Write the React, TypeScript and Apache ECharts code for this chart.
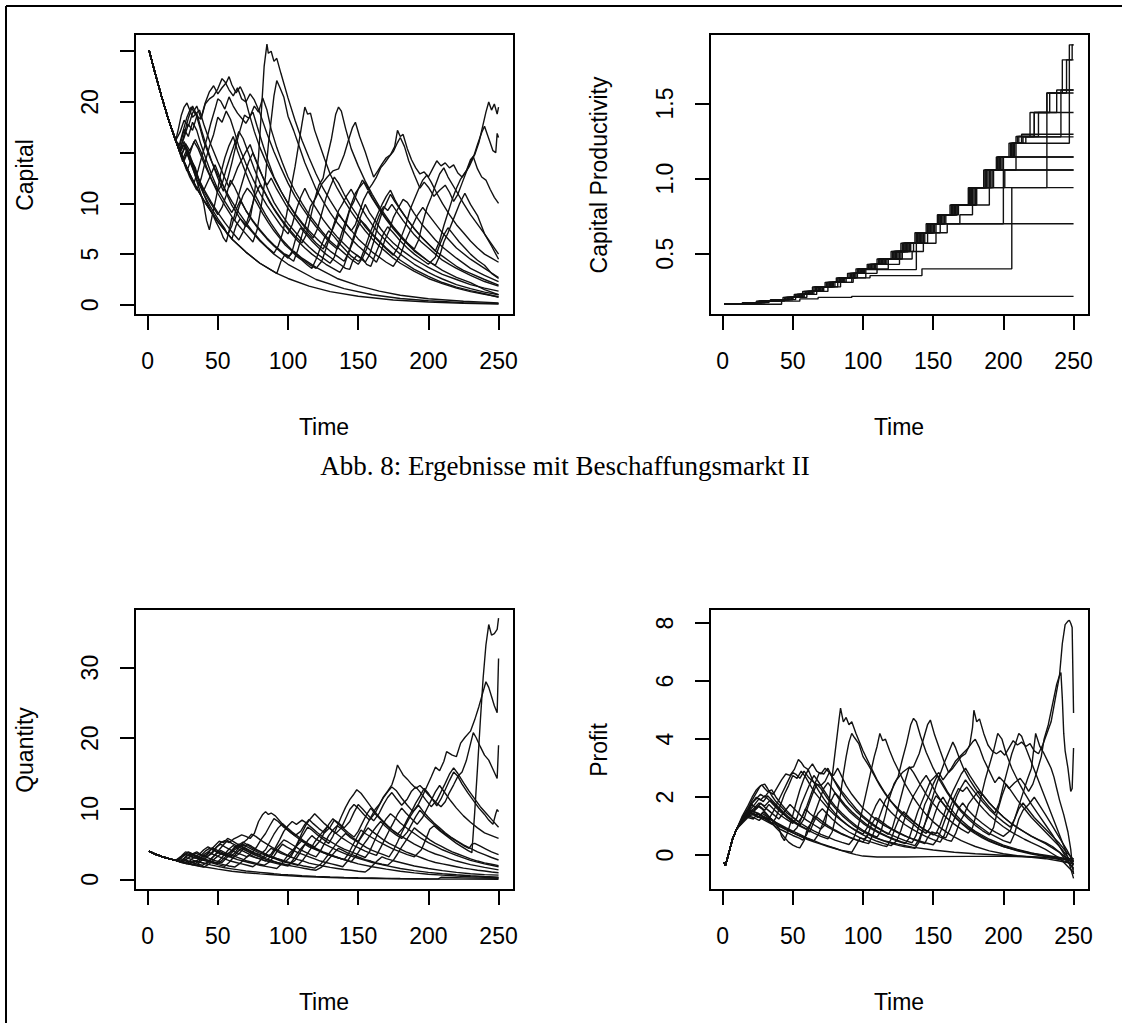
import React, { useEffect, useRef } from "react";
import * as echarts from "echarts";

// ---------- tick values ----------
const TIME_TICKS = [0, 50, 100, 150, 200, 250];
const CAPITAL_TICKS = [0, 5, 10, 15, 20, 25];
const CAPITAL_LABELS = [0, 5, 10, 20];
const PROD_TICKS = [0.5, 1.0, 1.5];
const QUANTITY_TICKS = [0, 10, 20, 30];
const PROFIT_TICKS = [0, 2, 4, 6, 8];

// ---------- Capital (flat lists: time, value, time, value ...) ----------
const CAPITAL_START = [1, 25.1, 5, 23, 10, 20.5, 15, 18.2];
const capitalPaths: number[][] = [
  [20,16.2, 25,14.4, 30,12.9, 35,11.5, 40,10.3, 50,8.2, 60,6.5, 70,5.2, 80,4.1, 92,3.1, 100,2.6, 115,1.85, 130,1.3, 150,0.85, 175,0.48, 200,0.28, 225,0.16, 250,0.09],
  [20,16.2, 25,14.4, 30,12.9, 35,11.5, 40,10.3, 50,8.2, 60,6.5, 70,5.2, 80,4.1, 92,3.1, 95,4.3, 98,5.0, 101,4.8, 104,5.3, 110,4.6, 120,3.7, 135,2.6, 150,1.9, 165,1.35, 180,0.95, 200,0.6, 225,0.35, 250,0.2],
  [20,16.2, 25,14.4, 30,12.9, 35,11.5, 40,10.3, 50,8.2, 60,6.5, 63,7.8, 66,8.5, 70,7.9, 80,6.3, 90,5.0, 100,4.0, 120,2.5, 140,1.6, 160,1.0, 180,0.63, 200,0.4, 225,0.22, 250,0.12],
  [20,16.2, 22,15.5, 25,17, 28,18.5, 31,19.5, 34,18.8, 37,19.2, 40,17.8, 45,15.8, 50,14.1, 55,12.5, 58,11.6, 61,12.4, 64,13.5, 67,14.3, 70,15.1, 73,15.8, 76,14.6, 80,13.2, 85,11.8, 88,12.5, 92,11.4, 100,9.5, 110,7.6, 120,6.1, 125,5.5, 128,6.3, 132,7.5, 136,8.9, 140,8.2, 150,6.5, 160,5.2, 170,4.2, 175,3.8, 180,4.9, 184,6.4, 188,7.6, 192,8.8, 196,9.6, 200,8.9, 210,7.1, 220,5.6, 230,4.5, 240,3.6, 250,2.7],
  [20,16.2, 23,15, 26,15.8, 30,14.2, 35,12.7, 40,11.3, 44,12.5, 48,13.8, 52,12.4, 56,11, 60,9.8, 65,8.7, 70,7.7, 73,8.5, 76,10.8, 79,14.6, 81,19, 83,23.5, 85,25.7, 86,24.8, 88,25, 90,24, 92,24.3, 95,22.8, 100,20.4, 105,18.2, 110,16.2, 115,14.5, 120,12.9, 125,11.5, 130,10.3, 135,9.2, 140,8.2, 145,7.3, 148,7.9, 151,9.2, 154,10.4, 157,11.2, 160,10.5, 165,9.4, 170,8.4, 175,7.5, 180,6.7, 190,5.3, 200,4.3, 210,3.4, 220,2.7, 230,2.2, 240,1.5, 250,1.0],
  [20,16.2, 23,15.4, 26,16.5, 29,17.8, 32,17.2, 35,18.6, 38,18.3, 41,19.8, 44,20.3, 47,20.6, 50,21.3, 53,22.3, 55,22.0, 58,21.2, 61,20.6, 64,21.4, 67,20.3, 70,20.0, 73,20.8, 76,20.2, 80,18.9, 85,16.9, 90,15.1, 95,13.5, 100,12.0, 105,10.7, 110,9.6, 115,8.6, 120,7.7, 125,6.9, 130,6.1, 135,5.5, 138,6.3, 141,7.8, 144,9.4, 147,10.2, 150,11.4, 153,12.3, 156,11.8, 160,10.6, 165,9.5, 170,8.5, 180,6.8, 190,5.4, 200,4.3, 205,3.9, 208,4.8, 211,6.2, 214,7.1, 218,8.5, 222,9.9, 226,11.0, 230,9.9, 235,8.8, 240,7.0, 245,5.8, 250,4.5],
  [20,16.2, 24,14.6, 27,15.9, 30,15.2, 34,16.3, 38,15.1, 42,13.6, 46,12.2, 50,11.0, 55,9.8, 60,8.7, 65,7.8, 70,7.0, 75,6.2, 78,7.4, 81,9.8, 84,12.7, 86,15.8, 88,18.2, 90,20.6, 92,22.1, 94,21.5, 97,20.5, 100,18.6, 104,17.2, 108,15.6, 112,14.0, 116,12.7, 120,11.4, 125,10.2, 130,9.1, 135,8.1, 140,7.3, 145,6.5, 150,5.8, 155,5.2, 160,4.6, 163,4.2, 166,5.1, 169,6.4, 172,7.3, 175,8.6, 178,9.4, 182,10.4, 185,10.1, 190,9.0, 195,8.0, 200,7.2, 205,6.4, 210,5.7, 220,4.6, 230,3.6, 240,2.9, 250,2.3],
  [20,16.2, 23,15.1, 26,16.8, 29,18.4, 32,19.6, 34,19.0, 37,17.6, 40,16.1, 45,14.3, 50,12.8, 55,11.4, 60,10.2, 65,9.1, 70,8.1, 75,7.2, 80,6.4, 85,5.7, 90,5.1, 93,5.8, 96,7.0, 99,8.9, 102,11.4, 105,13.6, 108,16.2, 110,17.9, 112,19.5, 114,18.8, 116,18.9, 119,17.2, 122,16.0, 126,14.4, 130,12.9, 135,11.5, 140,10.3, 145,9.2, 150,8.2, 155,7.3, 160,6.5, 165,5.8, 170,5.2, 175,4.6, 180,4.1, 190,3.3, 200,2.6, 210,2.1, 220,1.65, 230,1.3, 240,1.05, 250,0.8],
  [20,16.2, 24,14.8, 27,15.6, 30,14.9, 33,16.1, 36,15.4, 40,14.0, 45,12.5, 50,11.2, 53,11.9, 56,13.4, 59,14.7, 62,15.9, 65,17.1, 68,16.4, 72,14.9, 76,13.4, 80,12.0, 85,10.7, 90,9.5, 95,8.5, 100,7.6, 105,6.8, 110,6.1, 113,6.9, 116,8.6, 119,10.4, 122,11.8, 125,12.5, 128,14.6, 131,16.4, 134,18.8, 136,19.5, 138,19.1, 141,17.4, 145,15.4, 150,13.7, 155,12.2, 160,10.9, 165,9.7, 170,8.7, 175,7.7, 180,6.9, 185,6.1, 190,5.5, 193,6.4, 196,8.1, 199,9.6, 202,10.6, 205,11.8, 208,12.9, 211,13.5, 214,12.6, 220,11.2, 225,10.0, 230,8.9, 240,7.0, 250,5.0],
  [20,16.2, 23,15.3, 26,14.2, 29,15.2, 32,14.0, 36,12.5, 40,11.2, 45,10.0, 50,8.9, 53,9.6, 56,10.8, 59,12.3, 62,11.6, 66,10.4, 70,9.3, 75,8.3, 80,7.4, 85,6.6, 90,5.9, 95,5.3, 100,4.7, 104,4.3, 107,5.4, 110,6.9, 113,8.2, 116,9.7, 120,10.6, 124,11.9, 128,12.6, 132,13.2, 136,13.4, 140,14.8, 143,16.2, 146,17.5, 148,18.0, 151,16.6, 155,15.1, 158,13.8, 161,12.6, 164,13.2, 167,13.9, 170,14.5, 173,14.8, 176,15.6, 178,17.2, 180,16.6, 182,16.8, 185,15.4, 188,14.3, 191,13.5, 194,12.9, 197,13.1, 200,12.6, 203,13.4, 206,14.2, 209,13.7, 212,14.0, 215,13.5, 218,13.8, 221,13.0, 224,12.6, 227,13.2, 230,14.3, 233,14.8, 236,16.0, 239,17.8, 241,19.0, 243,20.0, 245,19.2, 247,19.8, 249,18.8, 250,19.5],
  [20,16.2, 23,15.7, 26,17.3, 29,16.6, 32,18.0, 35,17.2, 38,15.8, 42,14.2, 46,12.7, 50,11.4, 55,10.2, 60,9.1, 63,9.9, 66,11.4, 69,12.8, 72,14.1, 75,15.0, 78,14.0, 82,12.6, 86,11.3, 90,10.1, 95,9.0, 100,8.0, 105,7.2, 110,6.4, 115,5.7, 120,5.1, 125,4.6, 130,4.1, 133,4.7, 136,6.1, 139,7.4, 142,8.6, 145,9.9, 148,11.0, 151,11.6, 154,12.1, 157,11.3, 160,11.9, 163,12.6, 166,13.5, 169,14.0, 172,14.6, 175,15.1, 178,16.0, 180,16.5, 183,15.6, 186,14.2, 190,12.8, 194,11.5, 197,12.1, 200,11.6, 204,10.7, 208,11.3, 212,11.8, 215,11.1, 218,10.2, 221,10.9, 224,12.0, 227,13.1, 230,14.1, 232,14.6, 235,13.4, 238,12.6, 241,12.3, 244,11.4, 247,10.6, 250,10.0],
  [20,16.2, 23,15.2, 26,14.0, 30,12.6, 35,11.3, 38,12.4, 41,14.1, 44,15.6, 47,16.8, 50,18.5, 53,18.0, 56,19.1, 59,18.3, 62,17.0, 65,15.6, 70,13.9, 75,12.4, 80,11.0, 85,9.8, 90,8.8, 95,7.8, 100,7.0, 103,7.9, 106,9.4, 109,10.6, 112,11.5, 115,10.6, 120,9.5, 125,8.4, 130,7.5, 135,6.7, 140,6.0, 145,5.3, 150,4.8, 155,4.2, 158,4.9, 161,6.2, 164,7.8, 167,9.1, 170,10.0, 173,10.9, 176,10.2, 180,9.4, 185,8.4, 190,7.5, 195,6.7, 200,6.0, 205,5.3, 208,6.3, 211,7.8, 214,9.1, 217,10.4, 220,11.5, 223,12.4, 226,13.0, 229,13.6, 232,14.5, 235,15.8, 238,17.0, 240,17.6, 242,16.8, 244,16.0, 246,15.2, 248,15.0, 249,16.9, 250,16.5],
  [20,16.2, 22,15.4, 25,14.1, 28,15.0, 31,13.8, 35,12.4, 40,10.9, 45,9.6, 50,8.5, 55,7.5, 57,6.9, 60,7.8, 63,9.4, 66,10.3, 70,9.3, 75,8.2, 80,7.3, 85,6.5, 90,5.8, 95,5.2, 100,4.6, 103,5.3, 106,6.8, 109,7.6, 112,7.1, 117,6.3, 122,5.6, 127,5.0, 132,4.5, 137,4.0, 141,3.6, 144,3.5, 146,4.3, 149,4.9, 152,4.6, 155,5.7, 158,6.9, 161,8.0, 164,9.0, 167,9.9, 170,10.7, 173,11.3, 176,10.4, 180,9.4, 185,8.4, 190,7.5, 195,6.7, 200,6.0, 205,5.3, 210,4.8, 215,4.3, 220,3.8, 225,3.4, 230,3.1, 240,2.5, 250,1.95],
  [20,16.2, 22,17.4, 24,18.7, 26,19.5, 28,19.9, 30,19.2, 32,18.5, 35,18.9, 38,17.4, 42,15.6, 46,14.0, 50,12.5, 54,11.2, 57,12.4, 60,14.0, 63,15.8, 66,17.3, 69,18.7, 72,18.4, 75,19.0, 78,17.6, 82,15.8, 86,14.1, 90,12.6, 95,11.2, 100,10.0, 105,8.9, 110,8.0, 115,7.1, 118,6.6, 121,7.5, 124,9.0, 127,10.5, 130,11.6, 133,12.6, 136,12.0, 140,10.9, 145,9.7, 150,8.7, 155,7.7, 160,6.9, 165,6.2, 170,5.5, 175,4.9, 178,5.6, 181,6.8, 184,7.9, 187,9.4, 190,10.4, 193,11.4, 196,12.3, 199,12.8, 202,12.1, 206,11.0, 210,10.0, 215,8.9, 220,7.9, 225,7.1, 230,6.3, 235,5.6, 240,5.0, 245,4.6, 250,4.2],
  [20,16.2, 24,14.7, 28,13.2, 31,14.3, 34,13.5, 37,12.1, 40,10.9, 43,9.9, 46,9.0, 49,8.1, 52,7.3, 54,6.6, 56,6.2, 58,7.3, 60,8.6, 62,8.3, 65,9.6, 68,10.8, 71,11.5, 74,11.0, 78,10.0, 82,9.0, 86,8.1, 90,7.3, 94,6.6, 98,5.9, 102,5.4, 106,4.8, 110,4.4, 114,3.9, 117,3.6, 120,4.5, 123,5.6, 126,6.6, 129,7.3, 133,6.7, 137,6.0, 141,5.4, 145,4.8, 150,4.3, 153,4.6, 156,4.0, 159,3.8, 162,4.9, 165,5.9, 168,7.0, 171,7.7, 175,7.1, 180,6.3, 185,5.6, 190,5.0, 195,4.5, 200,4.0, 205,4.7, 208,5.9, 211,6.9, 214,7.6, 218,6.9, 222,6.2, 226,5.6, 230,5.0, 235,4.4, 240,3.9, 245,3.1, 250,2.6],
  [20,16.2, 23,15.0, 26,16.1, 29,15.0, 32,13.6, 35,12.2, 38,10.9, 40,9.9, 42,8.3, 44,7.4, 46,8.8, 49,10.7, 52,12.9, 55,14.5, 58,15.7, 61,16.6, 64,15.2, 68,13.7, 72,12.3, 76,11.0, 80,9.9, 84,8.9, 88,8.0, 92,7.2, 96,6.4, 100,5.8, 105,5.1, 110,4.5, 115,4.0, 120,3.6, 124,4.3, 127,5.5, 130,6.8, 133,8.1, 136,9.3, 139,10.0, 142,10.8, 145,11.4, 148,10.6, 152,9.6, 156,8.7, 160,7.9, 165,7.0, 170,6.3, 175,5.6, 180,5.0, 185,4.5, 190,4.0, 195,3.6, 200,3.2, 205,2.85, 210,2.55, 220,2.0, 230,1.6, 240,1.25, 250,1.0],
  [20,16.2, 25,14.4, 30,12.9, 33,12.0, 36,13.3, 39,14.8, 42,16.3, 45,17.9, 48,19.3, 50,20.3, 52,20.1, 55,19.3, 58,20.5, 61,19.6, 64,18.9, 67,18.4, 70,17.9, 73,18.6, 76,19.6, 79,19.0, 82,20.4, 85,19.2, 88,17.3, 92,15.5, 96,14.0, 100,12.6, 105,11.2, 110,10.0, 115,8.9, 120,8.0, 125,7.1, 130,6.3, 135,5.7, 140,5.1, 145,4.5, 150,4.0, 153,4.6, 156,5.5, 159,6.6, 162,7.7, 165,8.8, 168,9.7, 171,9.3, 174,9.9, 178,9.1, 182,8.3, 186,7.6, 190,6.9, 195,6.2, 200,5.6, 205,5.0, 210,4.4, 215,4.0, 220,3.6, 230,2.9, 240,2.3, 250,1.85],
  [20,16.2, 25,14.4, 28,15.3, 31,14.2, 35,12.8, 40,11.4, 45,10.2, 50,9.1, 55,8.1, 60,7.2, 65,6.4, 68,7.2, 71,8.3, 74,9.6, 77,10.9, 80,11.8, 83,11.2, 87,10.1, 92,9.0, 97,8.0, 102,7.1, 107,6.3, 112,5.6, 117,5.0, 122,4.5, 127,4.0, 132,3.6, 137,3.2, 140,3.9, 143,5.1, 146,6.1, 149,7.4, 152,8.3, 155,7.9, 160,7.0, 165,6.3, 170,5.6, 180,4.4, 190,3.5, 200,2.8, 210,2.2, 220,1.75, 230,1.4, 240,1.1, 250,0.75],
  [20,16.2, 23,17.0, 26,18.2, 29,17.6, 32,18.9, 35,19.6, 38,18.4, 41,19.9, 44,21.0, 47,21.6, 50,20.8, 53,21.4, 56,21.9, 58,22.5, 60,21.7, 63,20.9, 66,21.5, 69,20.6, 72,19.0, 76,17.1, 80,15.5, 85,13.9, 90,12.5, 95,11.2, 100,10.0, 105,9.0, 110,8.1, 115,7.3, 120,6.6, 125,5.9, 130,5.3, 135,4.8, 140,4.3, 143,5.1, 146,6.4, 149,7.7, 152,8.8, 155,9.9, 158,9.1, 162,8.3, 166,7.5, 170,6.8, 175,6.1, 180,5.5, 185,5.0, 190,4.5, 195,4.1, 200,3.7, 210,3.0, 220,2.5, 230,2.0, 240,1.65, 250,1.35],
];

// ---------- Capital productivity (change points: time, level) ----------
const productivityPaths: number[][] = [
  [1,0.165, 42,0.185, 55,0.2, 68,0.21, 92,0.217, 250,0.217],
  [1,0.165, 14,0.175, 24,0.185, 34,0.195, 43,0.21, 51,0.23, 57,0.25, 64,0.28, 73,0.31, 81,0.34, 89,0.37, 95,0.40, 103,0.43, 110,0.465, 120,0.515, 127,0.57, 137,0.64, 145,0.70, 153,0.76, 162,0.825, 175,0.94, 186,1.057, 195,1.144, 204,1.235, 209,1.28, 219,1.44, 231,1.57, 242,1.79, 247,1.89, 250,1.89],
  [1,0.165, 16,0.175, 26,0.185, 36,0.195, 45,0.21, 53,0.23, 59,0.25, 66,0.28, 75,0.31, 83,0.34, 91,0.37, 97,0.40, 105,0.43, 112,0.465, 122,0.515, 129,0.57, 139,0.64, 147,0.70, 155,0.76, 164,0.825, 177,0.94, 188,1.057, 197,1.144, 206,1.235, 211,1.28, 222,1.44, 233,1.57, 245,1.79, 250,1.79],
  [1,0.165, 18,0.175, 28,0.185, 38,0.195, 47,0.21, 55,0.23, 61,0.25, 68,0.28, 77,0.31, 85,0.34, 93,0.37, 99,0.40, 107,0.43, 114,0.465, 124,0.515, 131,0.57, 141,0.64, 149,0.70, 157,0.76, 166,0.825, 179,0.94, 190,1.057, 199,1.144, 208,1.235, 213,1.28, 225,1.44, 238,1.59, 250,1.59],
  [1,0.165, 15,0.175, 25,0.185, 37,0.195, 46,0.21, 54,0.23, 60,0.25, 67,0.28, 76,0.31, 84,0.34, 92,0.37, 98,0.40, 106,0.43, 113,0.465, 123,0.515, 130,0.57, 140,0.64, 148,0.70, 156,0.76, 165,0.825, 177,0.94, 231,1.57, 250,1.57],
  [1,0.165, 17,0.175, 27,0.185, 35,0.195, 44,0.21, 52,0.23, 58,0.25, 65,0.28, 74,0.31, 82,0.34, 90,0.37, 96,0.40, 104,0.43, 111,0.465, 121,0.515, 128,0.57, 138,0.64, 146,0.70, 154,0.76, 163,0.825, 176,0.94, 187,1.057, 196,1.144, 205,1.235, 210,1.28, 222,1.44, 250,1.44],
  [1,0.165, 19,0.175, 29,0.185, 39,0.195, 48,0.21, 56,0.23, 62,0.25, 69,0.28, 78,0.31, 86,0.34, 94,0.37, 100,0.40, 108,0.43, 115,0.465, 125,0.515, 132,0.57, 142,0.64, 150,0.70, 158,0.76, 167,0.825, 180,0.94, 191,1.057, 200,1.144, 207,1.235, 213,1.295, 250,1.295],
  [1,0.165, 16,0.175, 27,0.185, 37,0.195, 46,0.21, 54,0.23, 61,0.25, 68,0.28, 76,0.31, 84,0.34, 92,0.37, 98,0.40, 106,0.43, 113,0.465, 123,0.515, 130,0.57, 140,0.64, 148,0.70, 156,0.76, 165,0.825, 178,0.94, 189,1.057, 198,1.144, 207,1.235, 214,1.278, 241,1.59, 250,1.59],
  [1,0.165, 15,0.175, 26,0.185, 36,0.195, 45,0.21, 53,0.23, 60,0.25, 66,0.28, 75,0.31, 83,0.34, 91,0.37, 97,0.40, 105,0.43, 112,0.465, 122,0.515, 129,0.57, 139,0.64, 147,0.70, 155,0.76, 164,0.825, 177,0.94, 188,1.057, 197,1.144, 206,1.235, 247,1.79, 249,1.89, 250,1.89],
  [1,0.165, 20,0.175, 30,0.185, 40,0.195, 49,0.21, 57,0.23, 63,0.25, 70,0.28, 79,0.31, 87,0.34, 95,0.37, 101,0.40, 109,0.43, 116,0.465, 126,0.515, 133,0.57, 143,0.64, 151,0.70, 159,0.76, 168,0.825, 181,0.94, 192,1.057, 200,1.144, 250,1.144],
  [1,0.165, 18,0.175, 29,0.185, 38,0.195, 47,0.21, 55,0.23, 62,0.25, 69,0.28, 77,0.31, 85,0.34, 93,0.37, 100,0.40, 108,0.43, 115,0.465, 124,0.515, 132,0.57, 142,0.64, 150,0.70, 158,0.76, 167,0.825, 180,0.94, 193,1.057, 250,1.057],
  [1,0.165, 17,0.175, 28,0.185, 39,0.195, 48,0.21, 56,0.23, 63,0.25, 70,0.28, 78,0.31, 86,0.34, 94,0.37, 101,0.40, 109,0.43, 117,0.465, 127,0.515, 134,0.57, 144,0.64, 152,0.70, 200,1.057, 250,1.057],
  [1,0.165, 21,0.175, 31,0.185, 41,0.195, 50,0.21, 58,0.23, 64,0.25, 71,0.28, 80,0.31, 88,0.34, 96,0.37, 102,0.40, 110,0.43, 118,0.465, 128,0.515, 136,0.57, 146,0.64, 155,0.70, 250,0.70],
  [1,0.165, 19,0.175, 30,0.185, 41,0.195, 50,0.21, 58,0.23, 65,0.25, 72,0.28, 82,0.31, 92,0.34, 105,0.355, 142,0.40, 206,0.94, 250,0.94],
  [1,0.165, 18,0.175, 28,0.185, 38,0.195, 47,0.21, 55,0.23, 62,0.25, 69,0.28, 78,0.31, 86,0.34, 94,0.37, 100,0.395, 138,0.64, 146,0.70, 154,0.76, 163,0.825, 176,0.94, 187,1.057, 196,1.144, 250,1.144],
  [1,0.165, 22,0.175, 33,0.185, 44,0.195, 52,0.21, 60,0.23, 67,0.25, 75,0.28, 84,0.31, 93,0.34, 102,0.37, 110,0.40, 118,0.43, 126,0.465, 135,0.515, 143,0.57, 152,0.64, 160,0.70, 169,0.76, 178,0.825, 190,0.94, 201,1.057, 209,1.235, 216,1.278, 250,1.278],
];

// ---------- Quantity ----------
const QUANTITY_START = [1, 4.0, 5, 3.6, 10, 3.25, 15, 2.95];
const quantityPaths: number[][] = [
  [20,2.7, 25,2.45, 30,2.2, 40,1.8, 50,1.45, 60,1.15, 70,0.95, 80,0.78, 92,0.62, 110,0.42, 130,0.27, 150,0.17, 175,0.1, 200,0.06, 225,0.04, 250,0.02],
  [20,2.7, 24,2.5, 27,3.2, 30,3.6, 33,3.4, 36,3.0, 40,2.7, 45,2.4, 50,2.1, 55,1.85, 58,2.4, 61,3.1, 64,3.9, 67,4.4, 70,4.1, 75,3.6, 80,3.2, 85,2.8, 90,2.5, 95,2.25, 100,2.0, 105,2.7, 108,3.6, 111,4.6, 114,5.5, 117,6.2, 120,5.7, 125,5.1, 130,4.6, 135,4.1, 140,3.7, 145,3.3, 150,3.0, 155,2.7, 160,2.4, 170,1.95, 180,1.55, 190,1.25, 200,1.0, 210,0.8, 220,0.65, 230,0.52, 240,0.42, 250,0.33],
  [20,2.7, 23,2.9, 26,3.5, 29,3.8, 32,3.6, 35,3.9, 38,3.5, 42,3.2, 46,3.7, 49,4.5, 52,5.2, 55,5.5, 58,5.2, 61,5.7, 64,6.0, 67,6.3, 70,6.1, 73,5.8, 76,6.5, 79,8.2, 82,9.2, 84,9.6, 86,9.2, 88,9.4, 91,9.0, 94,8.3, 98,7.4, 102,6.6, 106,6.0, 110,5.4, 115,4.8, 120,4.3, 125,3.8, 130,3.4, 135,3.1, 140,2.8, 145,2.5, 150,2.2, 160,1.8, 170,1.45, 180,1.15, 190,0.92, 200,0.74, 210,0.6, 220,0.48, 230,0.38, 240,0.31, 250,0.25],
  [20,2.7, 24,3.3, 27,3.9, 30,3.7, 34,3.4, 38,3.1, 42,3.5, 45,4.2, 48,4.8, 51,5.4, 54,5.2, 57,5.8, 60,5.5, 64,5.0, 68,4.5, 72,4.1, 76,3.7, 80,3.4, 84,3.1, 88,3.6, 91,4.5, 94,5.6, 97,6.8, 100,7.6, 103,8.2, 106,7.8, 110,8.4, 113,8.0, 117,7.3, 121,6.6, 125,6.0, 130,5.4, 135,4.8, 140,4.3, 145,3.9, 150,3.5, 155,3.1, 158,3.9, 161,5.2, 164,6.5, 167,7.6, 170,8.6, 173,9.3, 176,8.8, 180,8.0, 185,7.2, 190,6.5, 195,5.8, 200,5.2, 205,4.7, 210,4.2, 215,3.8, 220,3.4, 230,2.7, 240,2.2, 250,1.8],
  [20,2.7, 23,2.5, 26,2.9, 29,2.6, 33,2.4, 37,2.9, 40,3.5, 43,3.9, 46,4.5, 49,4.2, 53,3.8, 57,3.4, 61,3.1, 65,3.6, 68,4.3, 71,5.0, 74,4.7, 78,4.2, 82,3.8, 86,3.4, 90,3.1, 94,2.8, 98,2.5, 102,3.2, 105,4.3, 108,5.5, 111,6.4, 114,7.4, 117,7.0, 121,6.3, 125,5.7, 129,5.1, 132,6.1, 135,7.5, 138,8.9, 141,10.2, 144,11.3, 147,12.1, 149,12.7, 152,12.2, 155,11.4, 159,10.3, 163,9.3, 167,8.4, 171,7.6, 175,6.9, 180,6.2, 185,5.6, 190,5.0, 195,4.5, 200,4.0, 205,3.6, 210,3.3, 215,2.9, 220,2.6, 230,2.1, 240,1.7, 250,1.35],
  [20,2.7, 24,2.4, 28,2.2, 31,2.8, 34,3.3, 37,3.1, 41,2.8, 45,2.5, 49,2.3, 52,2.9, 55,3.6, 58,4.3, 61,4.8, 64,4.4, 68,4.0, 72,3.6, 76,3.2, 80,2.9, 84,2.6, 88,3.3, 91,4.2, 94,4.9, 97,5.6, 100,5.3, 104,4.8, 108,4.3, 112,3.9, 116,3.5, 120,3.2, 123,4.0, 126,5.1, 129,6.2, 132,7.0, 135,7.6, 138,7.2, 142,6.5, 146,5.9, 150,5.4, 153,6.4, 156,7.7, 159,8.8, 162,9.9, 165,10.6, 168,11.7, 171,12.5, 174,13.4, 176,14.6, 178,16.2, 180,15.5, 182,14.8, 185,14.2, 188,13.5, 191,12.9, 194,13.3, 197,12.7, 200,12.0, 203,11.4, 206,10.8, 209,10.3, 212,11.0, 215,12.3, 218,13.4, 221,14.6, 224,15.2, 227,16.8, 230,19.2, 232,20.8, 234,20.1, 237,18.8, 240,17.6, 243,16.9, 246,15.6, 249,14.3, 250,19.0],
  [20,2.7, 23,2.9, 26,3.6, 29,3.4, 33,3.1, 37,3.6, 40,4.2, 43,4.6, 46,4.3, 50,3.9, 54,3.5, 58,3.2, 62,3.7, 65,4.5, 68,5.2, 71,5.7, 74,6.4, 77,6.1, 81,5.5, 85,5.0, 89,4.5, 93,4.1, 97,3.7, 101,3.3, 104,4.1, 107,5.3, 110,6.6, 113,7.8, 116,8.6, 119,9.3, 122,8.7, 126,7.9, 130,7.2, 134,6.5, 138,7.3, 141,8.6, 144,9.9, 147,10.6, 150,10.1, 154,9.2, 158,8.4, 162,9.4, 165,10.5, 168,11.6, 171,12.4, 174,13.1, 177,12.6, 181,11.5, 185,10.5, 189,9.6, 193,10.7, 196,11.9, 199,13.2, 202,14.5, 205,15.9, 208,15.4, 211,16.7, 213,18.1, 217,17.6, 220,17.4, 223,19.3, 226,20.1, 230,21.0, 233,22.6, 236,24.5, 239,26.6, 241,28.0, 243,27.2, 245,25.9, 247,24.6, 249,23.6, 250,31.3],
  [20,2.7, 24,2.45, 28,2.25, 32,2.05, 36,2.5, 39,3.0, 42,2.8, 46,2.55, 50,2.3, 54,2.1, 58,1.9, 62,1.75, 66,2.3, 69,2.9, 72,3.4, 75,3.2, 80,2.9, 85,2.6, 90,2.35, 95,2.1, 100,1.9, 103,2.6, 106,3.5, 109,4.3, 112,5.0, 115,4.6, 120,4.2, 125,3.8, 130,3.4, 135,3.1, 140,2.8, 143,3.6, 146,4.8, 149,5.9, 152,7.0, 155,6.5, 160,5.9, 165,5.3, 170,4.8, 175,4.3, 180,3.9, 185,3.5, 190,3.2, 195,4.2, 198,5.6, 201,7.1, 204,7.6, 208,6.9, 212,6.3, 216,5.7, 220,5.1, 224,4.6, 228,4.1, 231,3.8, 233,9.5, 235,15.8, 237,22.4, 239,28.5, 241,33.2, 243,36.1, 245,34.6, 247,34.8, 249,35.4, 250,37.0],
  [20,2.7, 24,3.1, 27,3.5, 30,3.3, 34,3.0, 38,3.4, 41,4.0, 44,4.4, 47,4.1, 51,3.7, 55,3.4, 59,3.9, 62,4.6, 65,5.0, 68,4.6, 72,4.2, 76,3.8, 80,3.5, 84,4.2, 87,5.3, 90,6.4, 93,7.3, 96,7.9, 99,7.4, 103,6.7, 107,6.1, 111,5.5, 115,5.0, 119,4.6, 123,5.5, 126,6.7, 129,7.8, 132,8.6, 135,8.0, 139,7.3, 143,6.6, 147,6.0, 150,6.8, 153,8.0, 156,9.2, 159,10.1, 162,9.3, 166,8.5, 170,7.7, 174,7.0, 178,6.4, 182,7.3, 185,8.5, 188,9.6, 191,10.8, 194,11.8, 197,12.9, 200,12.2, 203,11.3, 206,10.4, 209,11.4, 212,12.7, 215,14.0, 218,15.2, 221,14.6, 224,13.5, 228,12.3, 232,11.2, 236,10.1, 240,9.2, 243,8.4, 246,7.8, 248,9.3, 249,9.9, 250,9.6],
  [20,2.7, 23,2.5, 26,3.0, 29,3.5, 32,3.2, 36,2.9, 40,2.7, 43,3.3, 46,3.9, 49,4.6, 52,5.0, 55,4.6, 59,4.2, 63,3.8, 67,3.5, 71,3.2, 75,3.9, 78,4.7, 81,5.7, 84,6.5, 87,7.6, 90,8.6, 93,8.2, 97,7.4, 101,6.8, 105,6.2, 109,6.8, 112,7.8, 115,8.5, 118,7.9, 122,7.2, 126,6.6, 130,7.4, 133,8.4, 136,8.0, 140,7.3, 144,8.2, 147,9.5, 150,10.6, 153,10.0, 157,9.1, 161,8.3, 165,9.4, 168,10.6, 171,11.6, 174,12.3, 177,11.5, 181,10.5, 185,11.4, 188,12.5, 191,13.1, 194,12.4, 198,11.3, 202,10.3, 206,11.2, 209,12.4, 212,13.6, 215,14.9, 218,15.8, 221,15.0, 225,13.7, 229,12.5, 233,11.4, 237,10.3, 241,9.4, 245,8.5, 250,7.4],
  [20,2.7, 25,2.45, 28,2.9, 31,3.3, 34,3.7, 37,3.5, 41,3.2, 45,2.9, 49,2.6, 53,2.4, 56,3.0, 59,3.6, 62,4.2, 65,4.6, 68,5.0, 71,4.6, 75,4.2, 79,3.8, 83,3.5, 87,3.2, 91,2.9, 95,2.6, 99,2.4, 103,2.2, 107,2.0, 110,2.6, 113,3.4, 116,4.3, 119,5.3, 122,6.1, 125,6.8, 128,7.5, 131,7.0, 135,6.4, 139,5.8, 143,5.3, 147,4.8, 151,4.4, 155,4.0, 159,3.7, 163,3.4, 166,4.5, 169,5.7, 172,6.9, 175,8.0, 178,9.2, 181,10.1, 184,9.4, 188,8.6, 192,7.8, 196,8.8, 199,10.0, 202,11.2, 205,12.4, 208,13.3, 212,12.2, 216,11.1, 220,10.1, 225,9.0, 230,8.1, 235,7.3, 240,6.6, 245,6.2, 250,5.8],
  [20,2.7, 24,2.9, 27,2.6, 31,2.4, 35,2.2, 39,2.0, 43,2.5, 46,3.1, 49,3.6, 52,4.1, 55,3.8, 59,3.5, 63,3.2, 67,2.9, 71,2.6, 75,2.4, 79,2.2, 83,2.0, 87,2.5, 90,3.3, 93,4.2, 96,5.0, 99,4.6, 103,4.2, 107,3.8, 111,3.5, 115,3.2, 119,2.9, 123,2.6, 127,2.4, 131,2.2, 135,2.0, 139,1.8, 142,2.5, 145,3.4, 148,4.5, 151,5.6, 154,6.5, 157,7.3, 160,6.8, 164,6.2, 168,5.6, 172,5.1, 176,4.7, 180,4.3, 184,3.9, 188,3.6, 192,3.3, 196,3.0, 200,2.7, 205,2.4, 210,2.2, 215,2.0, 220,1.8, 225,1.6, 230,1.45, 235,1.3, 240,1.2, 245,1.05, 250,0.95],
  [20,2.7, 24,2.45, 28,2.25, 32,2.05, 36,1.9, 40,1.75, 44,2.2, 47,2.8, 50,3.3, 53,3.7, 56,3.4, 60,3.1, 64,2.8, 68,2.6, 72,2.4, 76,2.2, 80,2.0, 84,1.85, 88,1.7, 92,1.55, 95,2.1, 98,2.9, 101,3.7, 104,4.3, 107,4.9, 110,5.5, 113,5.1, 117,4.7, 121,4.3, 125,3.9, 129,3.6, 133,3.3, 137,3.0, 141,2.75, 145,2.5, 148,3.2, 151,4.1, 154,5.0, 157,5.8, 160,6.7, 163,7.5, 166,8.2, 169,7.6, 173,6.9, 177,6.3, 181,5.8, 185,6.7, 188,7.8, 191,8.9, 194,9.8, 197,9.1, 201,8.3, 205,7.6, 209,6.9, 213,6.3, 217,5.8, 221,5.3, 225,4.8, 229,4.4, 231,5.0, 233,5.1, 237,4.7, 241,4.3, 245,3.9, 250,3.5],
  [20,2.7, 25,2.45, 30,2.2, 33,2.6, 36,2.5, 40,2.3, 45,2.05, 50,1.85, 55,1.65, 60,1.5, 65,1.35, 70,1.2, 75,1.1, 80,1.0, 85,0.9, 90,0.8, 95,0.72, 100,0.65, 110,0.53, 120,0.43, 130,0.35, 140,0.28, 150,0.23, 160,0.19, 170,0.15, 180,0.12, 190,0.1, 200,0.08, 207,0.07, 209,0.3, 215,0.27, 225,0.22, 235,0.18, 250,0.14],
  [20,2.7, 23,3.0, 26,3.4, 29,3.9, 32,3.6, 35,3.3, 38,3.0, 42,2.7, 46,2.45, 50,2.25, 53,2.7, 56,3.3, 59,3.9, 62,4.4, 65,4.9, 68,5.3, 71,4.9, 75,4.4, 79,4.0, 83,3.7, 87,3.3, 91,3.0, 95,2.8, 99,2.5, 103,2.3, 107,2.1, 111,1.9, 115,1.75, 119,1.6, 123,2.1, 126,2.8, 129,3.6, 132,4.4, 135,5.2, 138,5.9, 141,6.5, 144,6.0, 148,5.5, 152,5.0, 156,4.5, 160,4.1, 164,3.8, 168,3.5, 172,3.2, 175,4.1, 178,5.3, 181,6.6, 184,7.8, 187,8.9, 190,9.8, 193,10.5, 196,9.7, 200,8.8, 204,8.0, 208,7.3, 212,6.6, 216,6.0, 220,5.5, 225,4.9, 230,4.4, 235,3.9, 240,3.5, 245,3.1, 250,2.75],
  [20,2.7, 24,2.5, 27,3.1, 30,2.9, 34,2.6, 38,2.4, 42,2.2, 45,2.8, 48,3.5, 51,4.2, 54,4.9, 57,5.5, 60,5.1, 64,4.7, 68,4.3, 72,3.9, 76,3.5, 80,3.2, 84,2.9, 88,2.7, 92,2.4, 96,2.2, 100,2.0, 104,1.85, 108,1.7, 112,1.55, 116,1.4, 120,1.3, 124,1.75, 127,2.4, 130,3.1, 133,3.8, 136,4.4, 139,4.1, 143,3.7, 147,3.4, 151,3.1, 155,2.8, 159,2.6, 163,2.35, 167,2.15, 171,2.0, 175,2.7, 178,3.6, 181,4.6, 184,5.5, 187,6.4, 190,7.3, 193,6.8, 197,6.2, 201,5.6, 205,5.1, 209,4.7, 213,4.3, 217,3.9, 221,3.6, 225,3.3, 230,2.9, 235,2.6, 240,2.35, 245,2.15, 250,1.95],
  [20,2.7, 25,2.45, 30,2.2, 35,2.0, 38,2.6, 41,3.3, 44,3.8, 47,3.5, 51,3.2, 55,2.9, 59,2.6, 63,2.4, 67,2.2, 71,2.0, 75,1.8, 79,2.4, 82,3.1, 85,3.8, 88,4.4, 91,4.1, 95,3.7, 99,3.4, 103,3.1, 107,2.8, 111,2.6, 115,2.3, 120,2.1, 125,1.9, 130,1.7, 135,1.55, 140,1.4, 145,1.3, 150,1.15, 155,1.05, 158,1.5, 161,2.1, 164,2.7, 167,3.2, 170,2.95, 175,2.65, 180,2.4, 190,1.9, 200,1.55, 210,1.25, 220,1.0, 230,0.8, 240,0.68, 250,0.6],
];

// ---------- Profit ----------
const PROFIT_START = [1, -0.25, 2, -0.35, 4, 0.0, 7, 0.55];
const profitPaths: number[][] = [
  [10,0.9, 15,1.25, 20,1.55, 25,1.45, 30,1.3, 35,1.2, 40,1.08, 45,0.95, 50,0.83, 55,0.72, 60,0.6, 65,0.5, 70,0.4, 75,0.32, 80,0.24, 85,0.16, 90,0.08, 95,0.02, 100,-0.03, 110,-0.06, 130,-0.06, 150,-0.05, 175,-0.04, 200,-0.04, 220,-0.06, 235,-0.09, 250,-0.12],
  [10,0.9, 15,1.2, 20,1.45, 25,1.35, 30,1.25, 35,1.12, 40,1.0, 45,0.88, 50,0.77, 55,0.66, 60,0.55, 65,0.46, 70,0.38, 75,0.3, 80,0.23, 85,0.16, 92,0.1, 95,0.35, 98,0.6, 101,0.55, 104,0.75, 108,0.62, 115,0.5, 125,0.38, 135,0.28, 150,0.18, 165,0.1, 180,0.05, 200,0.0, 220,-0.05, 235,-0.1, 250,-0.18],
  [10,0.9, 14,1.2, 18,1.5, 21,1.75, 24,1.6, 27,1.8, 30,1.65, 35,1.45, 40,1.25, 44,1.5, 48,1.75, 52,1.55, 56,1.35, 60,1.2, 65,1.05, 70,0.9, 73,1.05, 76,1.9, 79,3.1, 81,3.9, 83,4.7, 84,5.07, 86,4.6, 88,4.75, 90,4.5, 92,4.6, 95,4.2, 100,3.6, 105,3.1, 110,2.6, 115,2.2, 120,1.85, 125,1.55, 130,1.3, 135,1.1, 140,0.9, 145,0.75, 148,0.95, 151,1.4, 154,1.8, 157,2.0, 160,1.75, 165,1.45, 170,1.2, 175,1.0, 180,0.82, 190,0.55, 200,0.35, 210,0.2, 220,0.08, 230,-0.03, 240,-0.1, 250,-0.2],
  [10,0.9, 14,1.25, 18,1.55, 21,1.8, 24,1.95, 27,2.1, 30,2.0, 33,2.2, 36,2.1, 39,2.35, 42,2.6, 45,2.8, 48,2.75, 51,2.95, 54,3.3, 56,3.2, 58,3.05, 61,2.95, 64,3.15, 67,2.9, 70,2.8, 73,3.0, 76,2.85, 80,2.55, 85,2.2, 90,1.9, 95,1.6, 100,1.35, 105,1.15, 110,0.97, 115,0.82, 120,0.7, 125,0.6, 130,0.5, 135,0.43, 138,0.7, 141,1.2, 144,1.75, 147,2.05, 150,2.45, 153,2.75, 156,2.55, 160,2.2, 165,1.85, 170,1.55, 180,1.1, 190,0.75, 200,0.5, 205,0.42, 208,0.75, 211,1.25, 214,1.55, 218,1.75, 222,2.0, 226,1.7, 230,1.4, 235,1.0, 240,0.6, 245,0.2, 250,-0.25],
  [10,0.9, 14,1.2, 18,1.45, 22,1.6, 26,1.8, 30,1.7, 34,1.9, 38,1.7, 42,1.5, 46,1.3, 50,1.15, 55,1.0, 60,0.88, 65,0.76, 70,0.65, 75,0.56, 78,0.8, 81,1.4, 84,2.1, 86,2.8, 88,3.4, 90,3.9, 92,4.2, 94,4.05, 97,3.85, 100,3.4, 104,3.1, 108,2.75, 112,2.4, 116,2.1, 120,1.85, 125,1.6, 130,1.38, 135,1.18, 140,1.0, 145,0.86, 150,0.73, 155,0.62, 160,0.52, 163,0.48, 166,0.75, 169,1.15, 172,1.4, 175,1.75, 178,1.95, 182,2.2, 185,2.1, 190,1.8, 195,1.55, 200,1.32, 205,1.12, 210,0.95, 220,0.65, 230,0.4, 240,0.1, 250,-0.3],
  [10,0.9, 14,1.3, 18,1.6, 21,1.9, 24,2.15, 27,2.4, 30,2.45, 32,2.3, 35,2.05, 38,1.85, 42,1.65, 46,1.45, 50,1.3, 55,1.12, 60,0.97, 65,0.84, 70,0.72, 75,0.62, 80,0.52, 85,0.44, 90,0.37, 93,0.55, 96,0.9, 99,1.45, 102,2.1, 105,2.75, 108,3.4, 110,3.75, 112,4.2, 114,3.95, 116,4.0, 119,3.6, 122,3.25, 126,2.85, 130,2.45, 135,2.05, 140,1.7, 145,1.4, 150,1.15, 155,0.95, 160,0.78, 165,0.63, 170,0.5, 175,0.4, 180,0.3, 190,0.15, 200,0.05, 210,-0.02, 220,-0.07, 230,-0.12, 240,-0.2, 250,-0.3],
  [10,0.9, 14,1.2, 18,1.45, 22,1.5, 26,1.7, 30,1.55, 33,1.75, 36,1.6, 40,1.42, 45,1.25, 50,1.1, 53,1.3, 56,1.75, 59,2.1, 62,2.45, 65,2.75, 68,2.55, 72,2.25, 76,1.95, 80,1.7, 85,1.45, 90,1.22, 95,1.02, 100,0.86, 105,0.73, 110,0.62, 113,0.85, 116,1.4, 119,2.0, 122,2.45, 125,2.7, 128,3.3, 131,3.85, 134,4.5, 136,4.72, 138,4.6, 141,4.1, 145,3.55, 150,3.0, 155,2.55, 160,2.15, 165,1.8, 170,1.5, 175,1.25, 180,1.03, 185,0.85, 190,0.7, 193,0.95, 196,1.55, 199,2.05, 202,2.45, 205,2.25, 210,1.9, 215,1.6, 220,1.3, 225,1.05, 230,0.8, 235,0.55, 240,0.3, 245,0.0, 250,-0.35],
  [10,0.9, 14,1.15, 18,1.4, 22,1.45, 26,1.3, 29,1.5, 32,1.35, 36,1.2, 40,1.05, 45,0.92, 50,0.8, 53,0.95, 56,1.25, 59,1.6, 62,1.45, 66,1.28, 70,1.12, 75,0.97, 80,0.84, 85,0.72, 90,0.62, 95,0.53, 100,0.45, 104,0.4, 107,0.7, 110,1.1, 113,1.5, 116,1.9, 120,2.2, 124,2.6, 128,2.85, 132,3.0, 136,3.05, 140,3.5, 143,4.0, 146,4.5, 148,4.66, 151,4.15, 155,3.6, 158,3.2, 161,2.85, 164,3.0, 167,3.2, 170,3.4, 173,3.5, 176,3.8, 178,4.4, 179,5.0, 181,4.6, 183,4.7, 186,4.2, 189,3.8, 192,3.6, 195,3.5, 198,3.6, 201,3.45, 204,3.7, 207,3.95, 210,3.8, 213,3.9, 216,3.75, 219,3.85, 222,3.6, 225,3.5, 228,3.8, 231,4.2, 234,4.6, 237,5.4, 240,6.2, 242,7.3, 244,7.95, 246,8.07, 247,8.1, 248,8.0, 249,7.85, 250,4.9],
  [10,0.9, 14,1.25, 18,1.6, 21,1.8, 24,2.0, 27,1.9, 30,2.05, 33,1.9, 37,1.7, 41,1.5, 45,1.35, 50,1.18, 55,1.03, 60,0.9, 63,1.1, 66,1.5, 69,1.9, 72,2.3, 75,2.5, 78,2.3, 82,2.0, 86,1.75, 90,1.52, 95,1.3, 100,1.1, 105,0.93, 110,0.8, 115,0.68, 120,0.57, 125,0.48, 130,0.4, 133,0.6, 136,1.05, 139,1.5, 142,1.85, 145,2.2, 148,2.55, 151,2.7, 154,2.85, 157,2.6, 160,2.8, 163,3.0, 166,3.25, 169,3.4, 172,3.55, 175,3.7, 178,3.9, 180,4.0, 183,3.7, 186,3.3, 190,2.9, 194,2.5, 197,2.7, 200,2.55, 204,2.3, 208,2.5, 212,2.65, 215,2.45, 218,2.2, 221,2.45, 224,2.9, 227,3.4, 229,4.0, 232,4.5, 235,5.2, 238,5.9, 240,6.2, 241,6.3, 242,5.4, 243,4.2, 244,3.6, 246,3.0, 247,2.6, 248,2.2, 249,2.3, 250,3.7],
  [10,0.9, 14,1.2, 18,1.45, 22,1.4, 26,1.3, 30,1.2, 35,1.07, 38,1.3, 41,1.7, 44,2.1, 47,2.4, 50,2.75, 53,2.65, 56,2.9, 59,2.7, 62,2.45, 65,2.2, 70,1.9, 75,1.62, 80,1.38, 85,1.18, 90,1.0, 95,0.86, 100,0.73, 103,0.95, 106,1.35, 109,1.7, 112,1.95, 115,1.75, 120,1.48, 125,1.25, 130,1.05, 135,0.9, 140,0.76, 145,0.64, 150,0.54, 155,0.45, 158,0.7, 161,1.15, 164,1.65, 167,2.05, 170,2.35, 173,2.6, 176,2.4, 180,2.15, 185,1.85, 190,1.58, 195,1.35, 200,1.15, 205,0.97, 208,1.25, 211,1.7, 214,2.15, 217,2.6, 220,3.0, 223,4.2, 226,3.75, 229,3.5, 232,3.2, 234,3.0, 236,2.7, 238,2.3, 240,1.9, 243,1.4, 246,0.8, 248,0.2, 249,-0.3, 250,-0.65],
  [10,0.9, 14,1.1, 18,1.3, 22,1.25, 25,1.45, 28,1.35, 32,1.2, 36,1.05, 40,0.92, 45,0.8, 50,0.68, 55,0.58, 57,0.52, 60,0.72, 63,1.1, 66,1.35, 70,1.2, 75,1.02, 80,0.87, 85,0.74, 90,0.63, 95,0.54, 100,0.46, 103,0.65, 106,1.05, 109,1.3, 112,1.2, 117,1.02, 122,0.87, 127,0.74, 132,0.62, 137,0.52, 141,0.45, 144,0.4, 146,0.6, 149,0.8, 152,0.75, 155,1.05, 158,1.45, 161,1.85, 164,2.2, 167,2.5, 170,2.8, 173,3.0, 176,2.75, 180,2.45, 185,2.1, 190,1.8, 195,1.55, 200,1.32, 205,1.12, 210,0.95, 215,0.8, 220,0.66, 225,0.54, 230,0.43, 235,0.3, 240,0.1, 245,-0.2, 250,-0.45],
  [10,0.9, 14,1.35, 18,1.7, 21,2.0, 24,2.25, 26,2.35, 28,2.42, 30,2.3, 32,2.2, 35,2.25, 38,2.0, 42,1.75, 46,1.52, 50,1.32, 54,1.15, 57,1.35, 60,1.7, 63,2.1, 66,2.5, 69,2.85, 72,2.8, 75,3.0, 78,2.7, 82,2.35, 86,2.05, 90,1.78, 95,1.52, 100,1.3, 105,1.1, 110,0.94, 115,0.8, 118,0.72, 121,0.95, 124,1.45, 127,2.0, 130,2.55, 133,3.05, 136,2.85, 140,2.5, 145,2.1, 150,1.78, 155,1.5, 160,1.27, 165,1.07, 170,0.9, 175,0.76, 178,0.95, 181,1.45, 184,2.0, 187,2.6, 190,3.1, 193,3.6, 196,4.2, 199,4.0, 202,3.5, 206,3.0, 210,2.6, 215,2.15, 220,1.75, 225,1.4, 230,1.05, 235,0.7, 240,0.3, 245,-0.1, 250,-0.5],
  [10,0.9, 14,1.15, 18,1.35, 22,1.3, 26,1.2, 29,1.35, 32,1.25, 35,1.1, 38,0.95, 41,0.8, 44,0.62, 47,0.45, 50,0.35, 53,0.28, 55,0.25, 58,0.5, 60,0.85, 62,0.8, 65,1.15, 68,1.45, 71,1.6, 74,1.45, 78,1.25, 82,1.08, 86,0.93, 90,0.8, 94,0.7, 98,0.6, 102,0.52, 106,0.45, 110,0.39, 114,0.33, 117,0.3, 120,0.55, 123,0.95, 126,1.3, 129,1.5, 133,1.3, 137,1.12, 141,0.97, 145,0.83, 150,0.7, 153,0.78, 156,0.65, 159,0.6, 162,0.9, 165,1.25, 168,1.6, 171,1.8, 175,1.55, 180,1.3, 185,1.1, 190,0.92, 195,0.78, 200,0.65, 205,0.85, 208,1.25, 211,1.6, 214,1.8, 218,1.55, 222,1.3, 226,1.1, 230,0.9, 235,0.65, 240,0.4, 245,0.1, 250,-0.15],
  [10,0.9, 14,1.2, 18,1.45, 22,1.55, 25,1.7, 28,1.6, 31,1.45, 34,1.28, 37,1.12, 40,0.95, 42,0.65, 44,0.5, 46,0.75, 49,1.2, 52,1.75, 55,2.25, 58,2.65, 61,2.95, 64,2.6, 68,2.25, 72,1.95, 76,1.68, 80,1.45, 84,1.25, 88,1.08, 92,0.93, 96,0.8, 100,0.7, 105,0.58, 110,0.48, 115,0.4, 120,0.33, 124,0.5, 127,0.85, 130,1.3, 133,1.7, 136,2.05, 139,2.3, 142,2.55, 145,2.75, 148,2.5, 152,2.15, 156,1.85, 160,1.6, 165,1.33, 170,1.1, 175,0.9, 180,0.74, 185,0.6, 190,0.48, 195,0.38, 200,0.3, 210,0.17, 220,0.07, 230,0.0, 240,-0.08, 250,-0.2],
  [10,0.9, 14,1.25, 18,1.55, 22,1.5, 26,1.4, 30,1.3, 33,1.25, 36,1.5, 39,1.8, 42,2.1, 45,2.4, 48,2.7, 50,2.85, 52,2.8, 55,2.65, 58,2.9, 61,2.7, 64,2.55, 67,2.45, 70,2.4, 73,2.55, 76,2.85, 79,2.75, 82,3.0, 85,2.7, 88,2.4, 92,2.1, 96,1.85, 100,1.62, 105,1.4, 110,1.2, 115,1.03, 120,0.9, 125,0.77, 130,0.66, 135,0.57, 140,0.49, 145,0.42, 150,0.36, 153,0.55, 156,0.9, 159,1.3, 162,1.65, 165,2.0, 168,2.3, 171,2.2, 174,2.35, 178,2.05, 182,1.8, 186,1.58, 190,1.38, 195,1.17, 200,0.98, 205,0.82, 210,0.68, 215,0.55, 220,0.43, 225,0.32, 230,0.2, 235,0.05, 240,-0.1, 245,-0.35, 250,-0.6],
  [10,0.9, 14,1.15, 18,1.35, 22,1.4, 25,1.3, 28,1.45, 31,1.35, 35,1.2, 40,1.05, 45,0.9, 50,0.78, 55,0.67, 60,0.57, 65,0.49, 68,0.7, 71,1.05, 74,1.45, 77,1.85, 80,2.15, 83,2.0, 87,1.75, 92,1.5, 97,1.28, 102,1.08, 107,0.92, 112,0.78, 117,0.66, 122,0.56, 127,0.47, 132,0.4, 137,0.33, 140,0.55, 143,0.95, 146,1.3, 149,1.75, 152,2.05, 155,1.9, 160,1.6, 165,1.35, 170,1.12, 180,0.78, 190,0.5, 200,0.3, 210,0.15, 220,0.04, 230,-0.05, 240,-0.15, 250,-0.3],
  [10,0.9, 14,1.2, 18,1.5, 22,1.7, 26,1.95, 29,1.85, 32,2.05, 35,1.9, 39,1.7, 43,1.5, 47,1.32, 51,1.17, 55,1.03, 58,1.25, 61,1.7, 64,2.1, 67,2.45, 70,2.3, 74,2.0, 78,1.75, 82,1.52, 86,1.33, 90,1.16, 94,1.0, 98,0.87, 102,0.76, 106,0.66, 110,0.58, 114,0.5, 118,0.44, 122,0.38, 126,0.33, 130,0.29, 134,0.26, 137,0.24, 140,0.45, 143,0.9, 146,1.4, 149,1.9, 152,2.4, 155,2.8, 158,3.2, 161,3.55, 164,3.9, 166,3.7, 169,3.3, 172,2.95, 176,2.6, 180,2.3, 185,1.95, 190,1.65, 194,1.45, 197,1.8, 200,2.4, 203,2.95, 206,3.5, 209,3.9, 211,4.2, 213,4.1, 216,3.7, 220,3.2, 224,2.7, 228,2.2, 232,1.7, 236,1.2, 240,0.7, 244,0.2, 247,-0.3, 250,-0.8],
];

const toPairs = (flat: number[]): number[][] => {
  const out: number[][] = [];
  for (let i = 0; i + 1 < flat.length; i += 2) out.push([flat[i], flat[i + 1]]);
  return out;
};

const FONT = '"Liberation Sans", Arial, Helvetica, sans-serif';

export default function App() {
  const ref = useRef<HTMLDivElement>(null);

  useEffect(() => {
    if (!ref.current) return;
    const chart = echarts.init(ref.current, undefined, { renderer: "svg" });

    const grids = [
      { left: 135, top: 34, width: 379, height: 281 },
      { left: 710, top: 34, width: 379, height: 281 },
      { left: 135, top: 609, width: 379, height: 281 },
      { left: 710, top: 609, width: 379, height: 281 },
    ].map((g) => ({ ...g, show: true, borderColor: "#000", borderWidth: 2, backgroundColor: "transparent" }));

    const tickStyle = { show: true, length: 15, lineStyle: { color: "#000", width: 2 } };
    const labelBase = { color: "#000", fontSize: 23, fontFamily: FONT, margin: 34 };

    const xAxes = [0, 1, 2, 3].map((i) => ({
      type: "value",
      gridIndex: i,
      min: -9,
      max: 261,
      axisLine: { show: false, onZero: false },
      splitLine: { show: false },
      axisTick: { ...tickStyle, customValues: TIME_TICKS },
      axisLabel: { ...labelBase, customValues: TIME_TICKS },
    }));

    const yDefs = [
      { min: -1.0, max: 26.7, ticks: CAPITAL_TICKS, labels: CAPITAL_LABELS, fmt: (v: number) => String(v) },
      { min: 0.093, max: 1.962, ticks: PROD_TICKS, labels: PROD_TICKS, fmt: (v: number) => v.toFixed(1) },
      { min: -1.5, max: 38.3, ticks: QUANTITY_TICKS, labels: QUANTITY_TICKS, fmt: (v: number) => String(v) },
      { min: -1.2, max: 8.49, ticks: PROFIT_TICKS, labels: PROFIT_TICKS, fmt: (v: number) => String(v) },
    ];
    const yAxes = yDefs.map((d, i) => ({
      type: "value",
      gridIndex: i,
      min: d.min,
      max: d.max,
      axisLine: { show: false, onZero: false },
      splitLine: { show: false },
      axisTick: { ...tickStyle, customValues: d.ticks },
      axisLabel: { ...labelBase, rotate: 90, customValues: d.labels, formatter: d.fmt },
    }));

    const lineStyle = { color: "#111", width: 1.4, opacity: 1 };
    const mk = (data: number[][], idx: number, step?: string) => ({
      type: "line",
      xAxisIndex: idx,
      yAxisIndex: idx,
      data,
      symbol: "none",
      showSymbol: false,
      silent: true,
      step: step || false,
      lineStyle,
    });

    const series: any[] = [];
    capitalPaths.forEach((p) => series.push(mk(toPairs([...CAPITAL_START, ...p]), 0)));
    productivityPaths.forEach((p) => series.push(mk(toPairs(p), 1, "end")));
    quantityPaths.forEach((p) => series.push(mk(toPairs([...QUANTITY_START, ...p]), 2)));
    profitPaths.forEach((p) => series.push(mk(toPairs([...PROFIT_START, ...p]), 3)));

    const title = (text: string, x: number, y: number, rot = 0) => ({
      type: "text",
      x,
      y,
      rotation: rot,
      style: { text, fill: "#000", fontSize: 23, fontFamily: FONT, align: "center", verticalAlign: "middle" },
    });

    chart.setOption({
      animation: false,
      backgroundColor: "#fff",
      grid: grids,
      xAxis: xAxes,
      yAxis: yAxes,
      series,
      graphic: [
        { type: "line", shape: { x1: 6, y1: 6, x2: 1122, y2: 6 }, style: { stroke: "#000", lineWidth: 2 } },
        { type: "line", shape: { x1: 6, y1: 6, x2: 6, y2: 1023 }, style: { stroke: "#000", lineWidth: 2 } },
        title("Capital", 25, 175, Math.PI / 2),
        title("Capital Productivity", 599, 175, Math.PI / 2),
        title("Quantity", 25, 750, Math.PI / 2),
        title("Profit", 599, 750, Math.PI / 2),
        title("Time", 324, 427),
        title("Time", 899, 427),
        title("Time", 324, 1002),
        title("Time", 899, 1002),
        {
          type: "text",
          x: 565,
          y: 466,
          style: {
            text: "Abb. 8: Ergebnisse mit Beschaffungsmarkt II",
            fill: "#000",
            fontSize: 27,
            fontFamily: '"Liberation Serif", "Times New Roman", serif',
            align: "center",
            verticalAlign: "middle",
          },
        },
      ],
    });

    return () => chart.dispose();
  }, []);

  return (
    <div
      ref={ref}
      style={{ position: "fixed", left: 0, top: 0, width: 1122, height: 1023, background: "#fff" }}
    />
  );
}
